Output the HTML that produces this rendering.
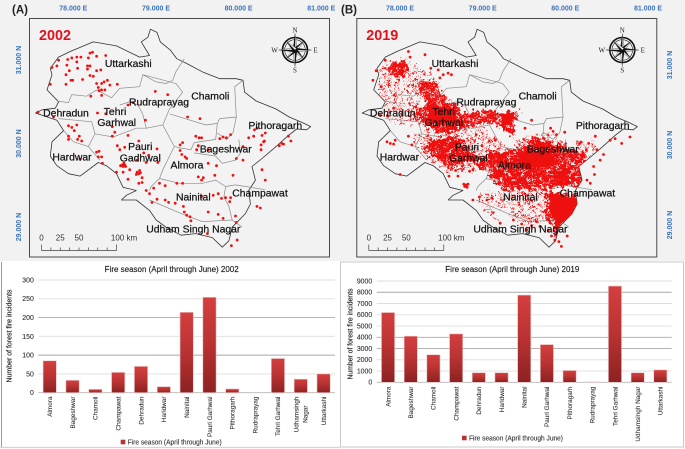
<!DOCTYPE html>
<html lang="en">
<head>
<meta charset="utf-8">
<title>Uttarakhand forest fires 2002 and 2019</title>
<style>
html,body{margin:0;padding:0;background:#fff;}
body{width:685px;height:449px;overflow:hidden;}
svg{display:block;font-family:"Liberation Sans",sans-serif;filter:blur(0.35px);}
</style>
</head>
<body>
<svg id="figure" xmlns="http://www.w3.org/2000/svg" width="685" height="449" viewBox="0 0 685 449">
<defs>
<linearGradient id="barGrad" x1="0" y1="0" x2="0" y2="1">
<stop offset="0" stop-color="#d43f3f"/><stop offset="0.5" stop-color="#b93232"/><stop offset="1" stop-color="#8c2222"/>
</linearGradient>
<filter id="denseTexture" x="-10%" y="-10%" width="120%" height="120%" color-interpolation-filters="sRGB">
<feTurbulence type="fractalNoise" baseFrequency="0.28" numOctaves="2" seed="4" result="n"/>
<feColorMatrix in="n" type="matrix" values="0 0 0 0 0  0 0 0 0 0  0 0 0 0 0  14 0 0 0 -4.7" result="holes"/>
<feComposite in="SourceGraphic" in2="holes" operator="in" result="cut"/>
<feDisplacementMap in="cut" in2="n" scale="14" xChannelSelector="G" yChannelSelector="B"/>
</filter>
<filter id="sparseTexture" x="-10%" y="-10%" width="120%" height="120%" color-interpolation-filters="sRGB">
<feTurbulence type="fractalNoise" baseFrequency="0.34" numOctaves="2" seed="11" result="n"/>
<feColorMatrix in="n" type="matrix" values="0 0 0 0 0  0 0 0 0 0  0 0 0 0 0  16 0 0 0 -9.2" result="holes"/>
<feComposite in="SourceGraphic" in2="holes" operator="in" result="cut"/>
<feDisplacementMap in="cut" in2="n" scale="10" xChannelSelector="G" yChannelSelector="B"/>
</filter>
</defs>
<rect x="0" y="0" width="685" height="261" fill="#f2f2f2"/>
<g id="maps"></g>
<g id="charts"></g>
</svg>
<script>
/* ---------- map data (degrees) ---------- */
var lonTicks = [78, 79, 80, 81];
var latTicks = [31, 30, 29];
var scaleLabels = ["0", "25", "50", "100 km"];
var scaleKm = [0, 25, 50, 100];
var border = [[78.96,31.44],[79.04,31.40],[79.08,31.28],[79.20,31.18],[79.28,31.07],[79.40,31.01],[79.60,30.90],[79.80,30.82],[80.00,30.82],[80.08,30.80],[80.10,30.65],[80.24,30.54],[80.48,30.44],[80.64,30.34],[80.80,30.27],[80.90,30.22],[80.85,30.18],[80.73,30.19],[80.63,30.11],[80.47,29.96],[80.31,29.82],[80.19,29.72],[80.23,29.55],[80.15,29.42],[80.17,29.25],[80.11,29.13],[79.95,28.96],[79.91,28.79],[79.83,28.71],[79.71,28.83],[79.51,28.88],[79.33,28.86],[79.15,28.96],[79.03,29.05],[78.95,29.17],[78.79,29.30],[78.61,29.30],[78.67,29.36],[78.79,29.42],[78.63,29.46],[78.55,29.63],[78.43,29.73],[78.33,29.77],[78.11,29.60],[77.97,29.63],[77.83,29.73],[77.75,29.85],[77.77,30.03],[77.91,30.17],[77.83,30.30],[77.57,30.39],[77.65,30.43],[77.81,30.45],[77.85,30.53],[77.71,30.68],[77.77,30.87],[77.75,30.95],[77.85,31.09],[77.99,31.16],[78.27,31.28],[78.55,31.23],[78.83,31.09],[78.95,31.11],[78.85,31.28],[78.93,31.34]];
var districtLines = [
[[79.37,31.07],[79.27,30.91],[79.23,30.80],[79.15,30.76],[79.03,30.78],[78.87,30.87],[78.83,30.72],[78.59,30.70],[78.49,30.58],[78.31,30.68],[78.19,30.60],[78.01,30.62],[77.97,30.52],[77.83,30.54]],
[[77.85,30.32],[78.05,30.30],[78.25,30.28],[78.29,30.13],[78.21,29.97]],
[[78.87,30.87],[79.27,30.76],[79.35,30.65],[79.19,30.44],[79.11,30.24],[78.91,30.20],[78.87,30.37],[78.81,30.49],[78.71,30.53],[78.59,30.49]],
[[79.19,30.38],[79.63,30.24],[79.77,30.26],[79.80,30.32],[80.00,30.34],[79.98,30.72],[80.08,30.80]],
[[80.00,30.34],[79.96,30.14],[79.88,30.06],[79.77,30.14]],
[[79.77,30.26],[79.75,30.06],[79.49,30.02],[79.45,29.93],[79.33,29.95],[79.25,29.97],[79.11,30.24]],
[[79.49,29.89],[79.75,29.85],[79.83,29.76],[79.99,29.80],[80.05,29.89],[80.03,30.06]],
[[79.25,29.97],[79.11,29.68],[79.07,29.57],[78.97,29.47],[78.95,29.42]],
[[79.07,29.57],[79.31,29.51],[79.59,29.51],[79.75,29.55],[79.87,29.47],[79.99,29.49],[80.35,29.43]],
[[79.87,29.47],[79.85,29.34],[79.91,29.22],[79.95,29.05],[80.07,28.96]],
[[78.95,29.30],[79.31,29.14],[79.59,29.03],[79.95,29.05]],
[[77.91,30.17],[78.03,30.03],[78.21,29.97],[78.35,29.80]],
[[78.29,30.13],[78.51,30.09],[78.79,30.20],[78.91,30.20]]
];
var fires2002 = [[77.85,31.05],[77.83,30.98],[77.77,30.96],[77.96,31.06],[78.01,31.08],[78.07,31.09],[78.12,31.09],[78.23,31.14],[78.26,31.15],[78.42,31.11],[78.31,31.10],[78.21,31.08],[78.07,31.03],[77.95,30.99],[78.08,30.95],[78.20,30.98],[78.23,30.98],[78.20,30.94],[78.31,30.92],[78.36,30.93],[77.98,30.92],[77.94,30.87],[78.23,30.86],[78.27,30.85],[78.00,30.80],[78.02,30.80],[77.94,30.75],[78.14,30.81],[77.75,30.75],[78.31,30.76],[78.37,30.76],[78.44,30.80],[78.40,30.78],[78.47,30.74],[78.56,30.75],[78.33,30.71],[78.34,30.67],[78.37,30.68],[78.41,30.68],[78.24,30.60],[78.37,30.61],[79.02,30.66],[79.17,30.62],[78.75,30.52],[78.69,30.49],[77.60,30.40],[77.79,30.34],[78.32,30.39],[78.42,30.38],[78.90,30.30],[79.41,30.34],[79.56,30.32],[78.50,30.22],[78.53,30.15],[78.50,30.10],[78.69,30.11],[77.97,30.23],[78.01,30.21],[78.07,30.24],[78.04,30.17],[77.97,30.10],[77.97,30.06],[78.10,30.10],[78.08,30.06],[78.13,30.04],[78.56,29.98],[78.82,30.04],[78.59,29.93],[78.65,29.96],[79.04,29.94],[78.88,29.89],[78.94,29.86],[78.31,29.90],[78.34,29.91],[78.37,29.84],[78.33,29.84],[78.11,29.81],[78.38,29.76],[78.62,29.74],[78.65,29.74],[78.63,29.72],[78.60,29.73],[78.66,29.72],[78.64,29.76],[78.80,29.80],[79.05,29.77],[78.91,29.77],[78.55,29.65],[78.63,29.65],[78.71,29.68],[78.80,29.65],[78.82,29.63],[78.84,29.64],[78.83,29.67],[78.79,29.62],[78.69,29.56],[78.86,29.58],[78.82,29.51],[78.86,29.52],[78.91,29.42],[79.00,29.45],[78.95,29.38],[79.07,29.51],[79.14,29.48],[79.28,29.51],[79.35,29.51],[79.54,29.59],[79.60,29.58],[79.58,29.55],[78.98,29.27],[79.04,29.31],[79.14,29.30],[79.18,29.27],[79.26,29.26],[79.36,29.22],[79.37,29.15],[79.40,29.11],[79.44,29.09],[79.45,29.04],[79.66,29.15],[79.78,29.12],[79.84,29.07],[79.58,29.34],[79.72,29.36],[79.78,29.38],[79.82,29.32],[79.87,29.33],[79.93,29.33],[79.92,29.28],[79.99,29.10],[80.00,29.02],[80.01,28.80],[79.94,28.73],[79.65,28.88],[80.25,29.22],[80.29,29.20],[80.35,29.55],[80.31,29.68],[79.96,29.61],[79.74,29.61],[79.76,29.73],[79.66,29.76],[79.58,30.08],[79.51,30.10],[79.55,30.08],[79.32,29.99],[79.35,30.02],[79.32,29.92],[79.34,29.87],[79.38,29.84],[79.40,29.82],[79.54,29.98],[79.52,29.93],[79.66,29.93],[79.80,30.07],[79.84,30.09],[79.88,30.08],[79.93,30.12],[80.15,30.08],[80.21,30.10],[80.31,30.11],[80.35,30.14],[80.25,30.20],[80.22,30.18],[80.33,30.03],[80.30,29.99],[80.30,29.93],[80.34,30.04],[80.08,29.97],[80.08,29.80],[80.00,29.82],[80.55,30.01],[80.52,29.98],[80.57,30.00],[80.63,30.10],[80.66,30.04]];
var fires2019Solid = [
[[79.85,29.36],[80.28,29.31],[80.26,29.17],[80.08,29.05],[79.92,29.03],[79.84,29.15]],
[[78.36,30.50],[78.70,30.42],[78.72,30.26],[78.40,30.26]],
[[79.26,30.36],[79.40,30.36],[79.36,30.24],[79.26,30.24]],
[[79.45,29.90],[79.85,29.92],[79.90,29.72],[79.50,29.70]]
];
var fires2019Dense = [
[[78.25,30.80],[78.47,30.76],[78.55,30.60],[78.71,30.51],[78.79,30.37],[78.99,30.43],[79.20,30.41],[79.20,30.26],[78.99,30.26],[78.75,30.20],[78.55,30.12],[78.39,30.20],[78.23,30.30],[78.17,30.39],[78.35,30.51],[78.27,30.68]],
[[79.20,30.39],[79.34,30.41],[79.48,30.39],[79.40,30.26],[79.44,30.10],[79.30,30.16],[79.20,30.24]],
[[77.91,31.03],[78.11,31.05],[78.11,30.91],[78.01,30.82],[77.91,30.89]],
[[78.35,30.03],[78.75,30.10],[78.85,29.93],[79.08,29.80],[79.08,29.68],[78.83,29.76],[78.61,29.72],[78.39,29.87]],
[[79.08,29.89],[79.56,29.97],[79.64,30.10],[79.80,30.05],[80.20,29.91],[80.33,29.80],[80.41,29.64],[80.24,29.47],[79.96,29.47],[79.80,29.43],[79.56,29.43],[79.28,29.43],[79.12,29.59]],
[[79.80,29.41],[80.31,29.34],[80.31,29.18],[80.16,29.09],[80.12,28.97],[79.96,28.89],[80.00,28.76],[79.92,28.74],[79.88,28.97],[79.76,29.09],[79.80,29.26]]
];
var fires2019Sparse = [
[[79.08,29.43],[79.80,29.43],[79.80,29.05],[79.60,28.93],[79.32,29.14],[79.08,29.26]],
[[77.77,30.99],[78.23,31.01],[78.27,30.55],[78.19,30.22],[77.91,30.26],[77.75,30.64]],
[[78.17,30.14],[78.35,30.14],[78.39,29.80],[78.25,29.88]],
[[80.10,30.06],[80.36,30.08],[80.44,29.72],[80.30,29.56],[80.20,29.88]],
[[78.95,29.35],[79.10,29.38],[79.20,29.05],[79.05,29.12]],
[[78.30,30.22],[78.95,30.26],[79.30,29.98],[79.10,29.68],[78.60,29.62],[78.30,29.85]],
[[78.10,30.98],[78.40,30.90],[78.50,30.70],[78.25,30.55]],
[[79.40,30.08],[79.90,30.14],[80.05,29.95],[79.50,29.90]]
];
var fires2019Points = [[78.33,31.12],[78.13,31.16],[77.85,31.05],[78.15,31.09],[78.61,30.89],[78.65,30.87],[78.55,30.87],[78.51,30.83],[79.62,30.30],[79.88,30.16],[79.92,30.12],[77.91,30.01],[77.95,30.00],[77.87,30.03],[77.97,30.05],[78.03,29.62],[78.17,29.99],[78.13,30.10],[80.31,30.01],[80.41,29.93],[80.45,29.80],[80.37,29.72],[80.57,30.05],[80.63,30.07],[80.71,30.01],[80.81,30.09],[80.39,30.10],[80.20,30.01],[80.26,29.84],[80.33,29.51],[80.29,29.55],[78.83,29.49],[78.85,29.50],[78.81,29.47],[78.84,29.46],[78.80,29.50],[78.73,29.60],[78.91,29.68],[78.87,29.66],[78.91,29.30],[79.08,29.30],[78.99,29.34],[79.24,29.01],[79.40,29.05],[79.56,28.93],[79.72,28.97],[77.70,30.80],[77.74,30.92],[77.80,30.72],[78.49,30.93],[78.40,30.95],[77.95,30.45],[77.79,30.36],[77.88,30.35],[78.05,30.38],[78.62,29.60],[78.70,29.67],[78.60,29.85],[79.18,30.05],[79.02,29.98],[78.95,30.12],[79.54,30.20],[79.66,30.08],[79.85,30.20],[80.02,30.15],[80.49,29.87],[80.38,29.62],[79.82,28.92],[79.86,28.85],[79.95,28.78],[79.98,28.72],[79.90,28.80],[80.05,28.85],[79.50,29.00],[79.62,28.98],[79.68,29.03]];
var labels2002 = [["Uttarkashi",385,190],["Chamoli",631,287],["Rudraprayag",477,306],["Tehri",345,334],["Garhwal",350,367],["Dehradun",198,338],["Pithoragarh",826,376],["Pauri",421,439],["Gadhwal",421,473],["Bageshwar",677,446],["Hardwar",216,471],["Almora",561,494],["Nainital",580,590],["Champawat",780,578],["Udham Singh Nagar",580,686]];
var labels2019 = [["Uttarkashi",385,190],["Chamoli",633,287],["Rudraprayag",479,306],["Tehri",351,334],["Garhwal",351,367],["Dehradun",198,338],["Pithoragarh",828,376],["Pauri",421,441],["Garhwal",425,473],["Bageshwar",678,446],["Hardwar",218,471],["Almora",563,494],["Nainital",581,590],["Champawat",782,578],["Udham Singh Nagar",581,686]];

/* ---------- chart data ---------- */
var categories2002 = ["Almora","Bageshwar","Chamoli","Champawat","Dehradun","Haridwar","Nainital","Pauri Garhwal","Pithoragarh","Rudraprayag","Tehri Garhwal","Udhamsingh|Nagar","Uttarkashi"];
var values2002 = [85,33,9,54,70,16,214,254,10,0,91,36,50];
var ticks2002 = [0,50,100,150,200,250,300];
var darkTicks2002 = [100,200];
var categories2019 = ["Almora","Bageshwar","Chamoli","Champawat","Dehradun","Haridwar","Nainital","Pauri Garhwal","Pithoragarh","Rudraprayag","Tehri Garhwal","Udhamsingh Nagar","Uttarkashi"];
var values2019 = [6200,4100,2450,4300,850,850,7750,3350,1050,50,8550,850,1100];
var ticks2019 = [0,1000,2000,3000,4000,5000,6000,7000,8000,9000];
var darkTicks2019 = [3000,4000,8000];

var NS = "http://www.w3.org/2000/svg";
function mk(parent, tag, attrs, text) {
  var e = document.createElementNS(NS, tag);
  for (var k in attrs) e.setAttribute(k, attrs[k]);
  if (text !== undefined) e.textContent = text;
  parent.appendChild(e);
  return e;
}

function drawCompass(g, cx, cy) {
  var R = 16.5, r = 3.2, dirs = 8;
  mk(g, "circle", {cx:cx, cy:cy, r:12.5, fill:"none", stroke:"#111", "stroke-width":1.6});
  mk(g, "circle", {cx:cx, cy:cy, r:10.3, fill:"none", stroke:"#111", "stroke-width":0.6});
  for (var i = 0; i < dirs; i++) {
    var a = i * Math.PI / 4, len = i % 2 ? R * 0.8 : R;
    var tx = cx + Math.sin(a) * len, ty = cy - Math.cos(a) * len;
    var lx = cx + Math.sin(a - Math.PI/2) * r * 0.7, ly = cy - Math.cos(a - Math.PI/2) * r * 0.7;
    var rx = cx + Math.sin(a + Math.PI/2) * r * 0.7, ry = cy - Math.cos(a + Math.PI/2) * r * 0.7;
    mk(g, "polygon", {points: cx+","+cy+" "+tx+","+ty+" "+lx+","+ly, fill:"#111"});
    mk(g, "polygon", {points: cx+","+cy+" "+tx+","+ty+" "+rx+","+ry, fill:"#e8e8e8", stroke:"#111", "stroke-width":0.3});
  }
  var letters = [["N",0,-17.5],["S",0,22.5],["E",20.5,2.5],["W",-20.5,2.5]];
  letters.forEach(function (l) {
    var t = mk(g, "text", {x:cx+l[1], y:cy+l[2], "text-anchor":"middle", "font-family":"'Liberation Serif',serif", "font-size":7, fill:"#222"}, l[0]);
    
    
  });
}

function drawMap(cfg) {
  var root = document.getElementById("maps");
  var g = mk(root, "g", {});
  
  
  var X = function (lon) { return cfg.x78 + (lon - 78) * 82.67; };
  var Y = function (lat) { return 64.3 + (31 - lat) * 79.85; };
  var pts = function (a) { return a.map(function (p) { return X(p[0]).toFixed(1) + "," + Y(p[1]).toFixed(1); }).join(" "); };

  var frame = mk(g, "rect", {x:cfg.fx, y:18.5, width:300, height:238.5, fill:"#f2f2f2", stroke:"#4a4a4a", "stroke-width":1});
  
  

  var body = mk(g, "g", {});
  
  

  var clipId = cfg.name + "-clip";
  var clip = mk(body, "clipPath", {id:clipId});
  mk(clip, "polygon", {points:pts(border)});

  var state = mk(body, "polygon", {points:pts(border), fill:"#f3f3f3", stroke:"#333", "stroke-width":0.8, "stroke-linejoin":"round"});
  
  
  districtLines.forEach(function (d) {
    var l = mk(body, "polyline", {points:pts(d), fill:"none", stroke:"#8c8c8c", "stroke-width":0.7});
    
    
  });

  if (cfg.sparse) {
    var zones = mk(body, "g", {"clip-path":"url(#" + clipId + ")"});
    
    
    var sg = mk(zones, "g", {filter:"url(#sparseTexture)"});
    cfg.sparse.forEach(function (d) {
      var s = mk(sg, "polygon", {points:pts(d), fill:"#f01010"});
      
      
    });
    var dg = mk(zones, "g", {filter:"url(#denseTexture)"});
    cfg.dense.forEach(function (d) {
      var s = mk(dg, "polygon", {points:pts(d), fill:"#ee0f0f"});
      
      
    });
    cfg.solid.forEach(function (d) {
      var s = mk(zones, "polygon", {points:pts(d), fill:"#ee0f0f"});
      
      
    });
  }
  cfg.points.forEach(function (p) {
    var c = mk(body, "circle", {cx:X(p[0]).toFixed(1), cy:Y(p[1]).toFixed(1), r:1.4, fill:"#f01010"});
    
    
  });

  cfg.labels.forEach(function (l) {
    var t = mk(g, "text", {x:(cfg.labelDx + l[1] / 3).toFixed(1), y:(l[2] / 3 + 3.6).toFixed(1), "text-anchor":"middle", "font-size":10.4, fill:"#111", stroke:"#111", "stroke-width":0.22}, l[0]);
    
    
  });

  lonTicks.forEach(function (lon) {
    var t = mk(g, "text", {x:(X(lon) + cfg.lonDx).toFixed(1), y:10.5, "text-anchor":"middle", "font-size":7, "font-weight":"bold", fill:"#3b73b9"}, lon.toFixed(3) + " E");
    
    
  });
  latTicks.forEach(function (lat) {
    var yy = (cfg.latY0 + (31 - lat) * cfg.latStep).toFixed(1), xx = cfg.latX;
    var t = mk(g, "text", {x:xx, y:yy, "text-anchor":"middle", "font-size":7, "font-weight":"bold", fill:"#3b73b9", transform:"rotate(-90 " + xx + " " + yy + ")"}, lat.toFixed(3) + " N");
    
    
  });

  var head = mk(g, "text", {x:cfg.panelX, y:13.5, "font-size":11.5, "font-weight":"bold", fill:"#222"}, cfg.panel);
  
  
  var year = mk(g, "text", {x:cfg.fx + 9.5, y:40, "font-size":14.4, "font-weight":"bold", fill:"#e3101c"}, cfg.year);
  
  

  var comp = mk(g, "g", {});
  
  
  drawCompass(comp, cfg.fx + 265.5, 50);

  var sb = mk(g, "g", {});
  
  
  var sx = function (km) { return cfg.fx + 12 + km * 0.75; };
  mk(sb, "line", {x1:sx(0), x2:sx(100), y1:250.5, y2:250.5, stroke:"#444", "stroke-width":0.8});
  for (var km = 0; km <= 100; km += 12.5) {
    var major = km === 0 || km === 100;
    mk(sb, "line", {x1:sx(km), x2:sx(km), y1:major ? 244.5 : 247.5, y2:250.5, stroke:"#444", "stroke-width":0.7});
  }
  scaleLabels.forEach(function (s, i) {
    var off = i === 3 ? 7.5 : 0;
    mk(sb, "text", {x:sx(scaleKm[i]) + off, y:240.5, "text-anchor":"middle", "font-size":8, fill:"#333"}, s);
  });
}

function drawChart(cfg) {
  var root = document.getElementById("charts");
  var g = mk(root, "g", {});
  
  
  var maxV = cfg.ticks[cfg.ticks.length - 1];
  var Y = function (v) { return cfg.y0 - v / maxV * (cfg.y0 - cfg.yTop); };
  var band = (cfg.x1 - cfg.x0) / cfg.categories.length;
  var XC = function (i) { return cfg.x0 + band * (i + 0.5); };

  cfg.frame(g);

  cfg.ticks.forEach(function (t) {
    var dark = cfg.darkTicks.indexOf(t) >= 0;
    if (t > 0) {
      var l = mk(g, "line", {x1:cfg.x0, x2:cfg.x1, y1:Y(t), y2:Y(t), stroke:dark ? "#a8a8a8" : "#dedede", "stroke-width":0.9});
      
      
    }
    var lab = mk(g, "text", {x:cfg.x0 - 4.5, y:Y(t) + 2.4, "text-anchor":"end", "font-size":6.9, fill:"#333", stroke:"#333", "stroke-width":0.12}, String(t));
    
    
  });
  var axis = mk(g, "line", {x1:cfg.x0, x2:cfg.x1, y1:cfg.y0, y2:cfg.y0, stroke:"#b5b5b5", "stroke-width":0.9});
  
  

  var bw = band * 0.58;
  cfg.values.forEach(function (v, i) {
    if (v <= 0) return;
    var b = mk(g, "rect", {x:(XC(i) - bw / 2).toFixed(2), y:Y(v).toFixed(2), width:bw.toFixed(2), height:(cfg.y0 - Y(v)).toFixed(2), fill:"url(#barGrad)", stroke:"#eec4c4", "stroke-width":0.6});
    
    
  });

  cfg.categories.forEach(function (c, i) {
    var parts = c.split("|");
    parts.forEach(function (p, j) {
      var xx = XC(i) + 2.3 + (parts.length > 1 ? (j === 0 ? -4.5 : 4.5) : 0);
      var yy = cfg.labelY + (parts.length > 1 && j === 1 ? 9 : 0);
      var t = mk(g, "text", {x:xx.toFixed(1), y:yy, "text-anchor":"end", "font-size":6.4, fill:"#333", stroke:"#333", "stroke-width":0.1, transform:"rotate(-90 " + xx.toFixed(1) + " " + yy + ")"}, p);
      
      
    });
  });

  var title = mk(g, "text", {x:cfg.titleX, y:272, "text-anchor":"middle", "font-size":7.9, fill:"#222", stroke:"#222", "stroke-width":0.15, textLength:134, lengthAdjust:"spacingAndGlyphs"}, cfg.title);
  
  
  var yt = mk(g, "text", {x:cfg.yTitleX, y:cfg.yTitleY, "text-anchor":"middle", "font-size":7, fill:"#222", stroke:"#222", "stroke-width":0.15, textLength:cfg.yTitleLen, lengthAdjust:"spacingAndGlyphs", transform:"rotate(-90 " + cfg.yTitleX + " " + cfg.yTitleY + ")"}, cfg.yTitle);
  
  

  var sw = mk(g, "rect", {x:cfg.legendX, y:cfg.legendY - 2.3, width:4.6, height:4.6, fill:"#b93232"});
  
  
  var lt = mk(g, "text", {x:cfg.legendX + 7, y:cfg.legendY + 2.3, "font-size":7, fill:"#333", stroke:"#333", "stroke-width":0.12, textLength:94, lengthAdjust:"spacingAndGlyphs"}, "Fire season (April through June)");
  
  
}

drawMap({name:"fire-map-2002", fx:29.5, x78:71, lonDx:2.3, latX:21, latY0:60, latStep:83.5, panel:"(A)", panelX:12, year:"2002", labelDx:0, labels:labels2002, points:fires2002});
drawMap({name:"fire-map-2019", fx:356.8, x78:397.7, lonDx:2.3, latX:672, latY0:65, latStep:80, panel:"(B)", panelX:341, year:"2019", labelDx:326.7, labels:labels2019, points:fires2019Points, dense:fires2019Dense, sparse:fires2019Sparse, solid:fires2019Solid});

drawChart({name:"bar-chart-2002", categories:categories2002, values:values2002, ticks:ticks2002, darkTicks:darkTicks2002,
  x0:38.3, x1:335, y0:392.7, yTop:280, labelY:396.5, titleX:171.7, title:"Fire season (April through June) 2002",
  yTitle:"Number of forest  fire incidents", yTitleX:11.5, yTitleY:336, yTitleLen:93, legendX:120.7, legendY:442,
  frame:function (g) {
    var a = mk(g, "line", {x1:1.5, x2:1.5, y1:262, y2:447, stroke:"#9a9a9a", "stroke-width":1});
    
    
    var b = mk(g, "line", {x1:0, x2:340, y1:447.5, y2:447.5, stroke:"#d4d4d4", "stroke-width":1.2});
    
    
  }});
drawChart({name:"bar-chart-2019", categories:categories2019, values:values2019, ticks:ticks2019, darkTicks:darkTicks2019,
  x0:376.7, x1:671.7, y0:382.3, yTop:281, labelY:386.5, titleX:512.3, title:"Fire season (April through June) 2019",
  yTitle:"Number of forest fire incidents", yTitleX:352.5, yTitleY:334, yTitleLen:91, legendX:462, legendY:438,
  frame:function (g) {
    var a = mk(g, "rect", {x:340.5, y:262, width:343, height:185, fill:"none", stroke:"#c9c9c9", "stroke-width":1});
    
    
  }});
</script>
</body>
</html>
